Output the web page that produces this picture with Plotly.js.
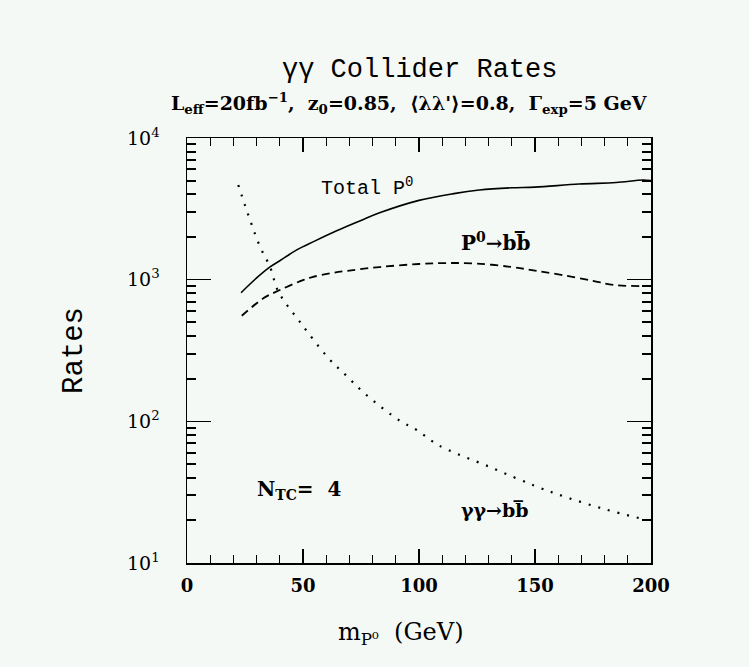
<!DOCTYPE html>
<html>
<head>
<meta charset="utf-8">
<script src="https://cdn.plot.ly/plotly-3.0.1.min.js"></script>
<style>html,body{margin:0;padding:0;background:#f5f9f6;}</style>
</head>
<body>
<div id="chart" style="width:749px;height:667px;"></div>
<script>
// Total P0 rate
const massTotal = [23.3, 30, 35.8, 40, 47.3, 55, 64.5, 75, 83, 100, 115, 126, 140, 150, 169, 185, 196.5, 200];
const rateTotal = [809, 1028, 1230, 1360, 1622, 1871, 2213, 2618, 2965, 3630, 4050, 4290, 4450, 4500, 4730, 4850, 5050, 5000];
// P0 -> b bbar
const massBB = [23.6, 32.9, 40, 50, 54, 61.6, 70, 83, 100, 112, 125, 140, 150, 162, 175, 184, 200];
const rateBB = [556, 738, 845, 993, 1043, 1107, 1160, 1228, 1290, 1310, 1300, 1228, 1160, 1077, 980, 917, 900];
// gamma gamma -> b bbar background
const massBkg = [22.1, 27.2, 31.5, 35.8, 39.4, 49, 61, 68.8, 77.4, 91.7, 99, 108.3, 130.6, 150, 163.8, 180, 196.6];
const rateBkg = [4660, 2630, 1706, 1230, 822, 495, 279, 209, 153, 101, 87, 68, 47.6, 35, 29, 24, 20.4];

const yTickVals = [10, 100, 1000, 10000];
const yTickText = ['10<sup>1</sup>', '10<sup>2</sup>', '10<sup>3</sup>', '10<sup>4</sup>'];
const xTickVals = [0, 50, 100, 150, 200];

const yMinor = [];
for (let d = 10; d < 10000; d *= 10) for (let k = 2; k <= 9; k++) yMinor.push(k * d);

const serif = '"DejaVu Serif", "Liberation Serif", serif';
const mono = '"Liberation Mono", "DejaVu Sans Mono", monospace';
const ink = '#000000';

const traces = [
  {x: massTotal, y: rateTotal, mode: 'lines', line: {color: ink, width: 1.6, shape: 'spline'}, name: 'Total P0'},
  {x: massBB, y: rateBB, mode: 'lines', line: {color: ink, width: 1.8, dash: '8px,5px', shape: 'spline'}, name: 'P0 -> bb'},
  {x: massBkg, y: rateBkg, mode: 'lines', line: {color: ink, width: 2.2, dash: '2px,8px', shape: 'spline'}, name: 'γγ -> bb'}
];

const layout = {
  width: 749, height: 667,
  paper_bgcolor: '#f5f9f6', plot_bgcolor: '#f5f9f6',
  margin: {l: 187, r: 98, t: 138, b: 104},
  showlegend: false,
  font: {family: serif, color: ink},
  xaxis: {
    range: [0, 200], showgrid: false, zeroline: false,
    showline: true, linecolor: ink, linewidth: 1.5, mirror: 'ticks',
    ticks: 'inside', ticklen: 14, tickwidth: 1.3, tickcolor: ink,
    tickmode: 'array', tickvals: xTickVals,
    tickfont: {family: serif, size: 18, color: ink, weight: 'bold'},
    ticklabelstandoff: 6,
    minor: {ticks: 'inside', ticklen: 8, tickwidth: 1.2, tickcolor: ink, dtick: 10}
  },
  yaxis: {
    type: 'log', range: [1, 4], showgrid: false, zeroline: false,
    showline: true, linecolor: ink, linewidth: 1.5, mirror: 'ticks',
    ticks: 'inside', ticklen: 24, tickwidth: 1.3, tickcolor: ink,
    tickmode: 'array', tickvals: yTickVals, ticktext: yTickText,
    tickfont: {family: serif, size: 19, color: ink},
    ticklabelstandoff: 22,
    minor: {ticks: 'inside', ticklen: 9, tickwidth: 2, tickcolor: ink, tickmode: 'array', tickvals: yMinor},
    title: {text: 'Rates', font: {family: mono, size: 29, color: ink}, standoff: 36}
  },
  annotations: [
    {xref: 'paper', yref: 'paper', x: 0.5, y: 1.16, text: 'γγ Collider Rates', showarrow: false,
     font: {family: mono, size: 27, color: ink}, xanchor: 'center', yanchor: 'middle'},
    {xref: 'paper', yref: 'paper', x: 0.48, y: 1.082,
     text: '<b>L<sub>eff</sub>=20fb<sup>−1</sup>,  z<sub>0</sub>=0.85,  ⟨λλ\'⟩=0.8,  Γ<sub>exp</sub>=5 GeV</b>',
     showarrow: false, font: {family: serif, size: 19, color: ink}, xanchor: 'center', yanchor: 'middle'},
    {xref: 'paper', yref: 'paper', x: 0.461, y: -0.165, text: 'm<sub>P⁰</sub>  (GeV)', showarrow: false,
     font: {family: serif, size: 24, color: ink}, xanchor: 'center', yanchor: 'middle'},
    {xref: 'x', yref: 'y', x: 77.6, y: 3.655, text: 'Total P<sup>0</sup>', showarrow: false,
     font: {family: mono, size: 20, color: ink}, xanchor: 'center', yanchor: 'middle'},
    {xref: 'x', yref: 'y', x: 133, y: 3.265, text: '<b>P<sup>0</sup>→bb\u0305</b>', showarrow: false,
     font: {family: serif, size: 20, color: ink}, xanchor: 'center', yanchor: 'middle'},
    {xref: 'x', yref: 'y', x: 48.7, y: 1.515, text: '<b>N<sub>TC</sub>=  4</b>', showarrow: false,
     font: {family: serif, size: 20, color: ink}, xanchor: 'center', yanchor: 'middle'},
    {xref: 'x', yref: 'y', x: 132.8, y: 1.374, text: '<b>γγ→bb\u0305</b>', showarrow: false,
     font: {family: serif, size: 19, color: ink}, xanchor: 'center', yanchor: 'middle'}
  ]
};

Plotly.newPlot('chart', traces, layout, {displayModeBar: false, staticPlot: true});
</script>
</body>
</html>
